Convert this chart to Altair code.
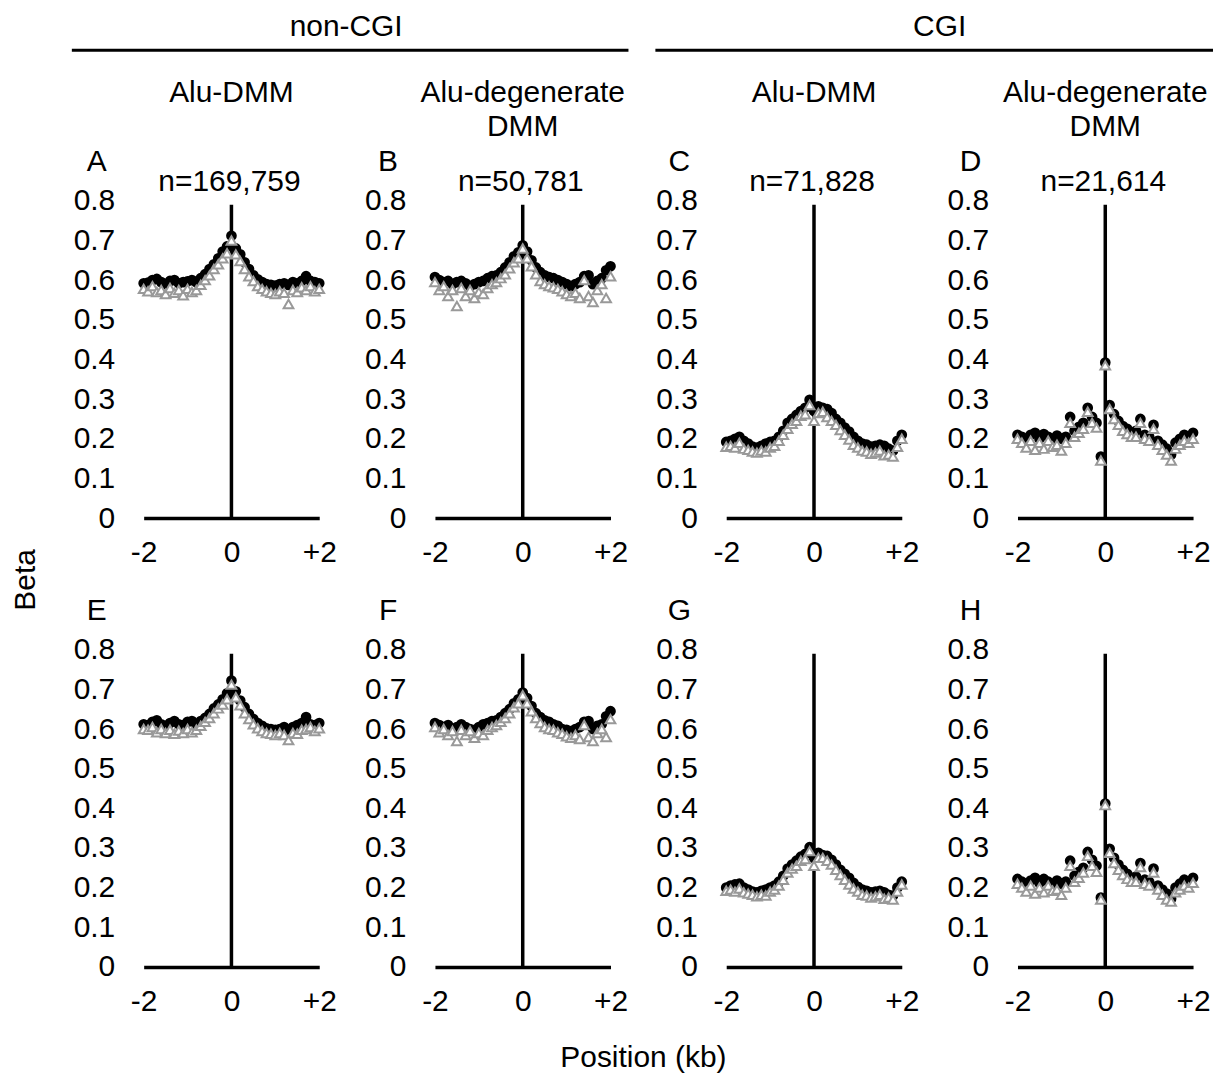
import altair as alt
import pandas as pd

FONT = "Liberation Sans"

positions = [-2.0, -1.9, -1.8, -1.7, -1.6, -1.5, -1.4, -1.3, -1.2, -1.1, -1.0,
             -0.9, -0.8, -0.7, -0.6, -0.5, -0.4, -0.3, -0.2, -0.1, 0.0,
             0.1, 0.2, 0.3, 0.4, 0.5, 0.6, 0.7, 0.8, 0.9, 1.0,
             1.1, 1.2, 1.3, 1.4, 1.5, 1.6, 1.7, 1.8, 1.9, 2.0]

y_ticks = [0, 0.1, 0.2, 0.3, 0.4, 0.5, 0.6, 0.7, 0.8]
x_ticks = [-2, 0, 2]

A_black = [0.592, 0.594, 0.600, 0.603, 0.595, 0.590, 0.598, 0.600, 0.592, 0.595, 0.597,
           0.600, 0.595, 0.605, 0.615, 0.628, 0.640, 0.655, 0.672, 0.685, 0.712,
           0.680, 0.665, 0.645, 0.628, 0.612, 0.602, 0.595, 0.590, 0.588, 0.586,
           0.590, 0.592, 0.588, 0.595, 0.592, 0.598, 0.610, 0.598, 0.595, 0.592]
A_gray = [0.578, 0.572, 0.585, 0.570, 0.575, 0.565, 0.580, 0.568, 0.575, 0.562, 0.578,
          0.570, 0.575, 0.588, 0.600, 0.612, 0.628, 0.640, 0.655, 0.668, 0.700,
          0.665, 0.648, 0.628, 0.610, 0.598, 0.585, 0.578, 0.572, 0.568, 0.565,
          0.572, 0.568, 0.540, 0.575, 0.570, 0.582, 0.575, 0.585, 0.572, 0.578]

B_black = [0.608, 0.600, 0.595, 0.598, 0.590, 0.595, 0.598, 0.592, 0.585, 0.590, 0.595,
           0.598, 0.605, 0.610, 0.612, 0.620, 0.632, 0.645, 0.660, 0.670, 0.688,
           0.672, 0.650, 0.632, 0.620, 0.612, 0.608, 0.605, 0.600, 0.595, 0.590,
           0.585, 0.590, 0.595, 0.610, 0.612, 0.590, 0.598, 0.605, 0.625, 0.635]
B_gray = [0.595, 0.575, 0.585, 0.560, 0.575, 0.535, 0.580, 0.560, 0.575, 0.555, 0.570,
          0.565, 0.580, 0.590, 0.595, 0.605, 0.615, 0.630, 0.645, 0.655, 0.680,
          0.655, 0.635, 0.615, 0.598, 0.590, 0.585, 0.582, 0.578, 0.572, 0.565,
          0.560, 0.568, 0.555, 0.600, 0.560, 0.545, 0.575, 0.590, 0.555, 0.610]

C_black = [0.192, 0.195, 0.200, 0.205, 0.195, 0.188, 0.180, 0.178, 0.182, 0.188, 0.192,
           0.195, 0.205, 0.220, 0.240, 0.250, 0.260, 0.270, 0.278, 0.298, 0.270,
           0.282, 0.278, 0.275, 0.265, 0.250, 0.240, 0.228, 0.218, 0.205, 0.195,
           0.188, 0.185, 0.180, 0.182, 0.185, 0.182, 0.175, 0.170, 0.195, 0.210]
C_gray = [0.180, 0.182, 0.178, 0.190, 0.175, 0.172, 0.168, 0.165, 0.170, 0.168, 0.178,
          0.182, 0.195, 0.210, 0.225, 0.238, 0.245, 0.258, 0.262, 0.285, 0.245,
          0.265, 0.268, 0.255, 0.245, 0.235, 0.222, 0.210, 0.198, 0.185, 0.178,
          0.170, 0.168, 0.162, 0.165, 0.170, 0.158, 0.160, 0.155, 0.180, 0.200]

D_black = [0.210, 0.205, 0.198, 0.210, 0.215, 0.200, 0.212, 0.205, 0.195, 0.208, 0.200,
           0.205, 0.255, 0.220, 0.230, 0.240, 0.278, 0.255, 0.240, 0.155, 0.392,
           0.285, 0.262, 0.245, 0.232, 0.225, 0.215, 0.220, 0.250, 0.210, 0.205,
           0.235, 0.195, 0.185, 0.175, 0.160, 0.190, 0.200, 0.210, 0.205, 0.215]
D_gray = [0.200, 0.190, 0.178, 0.195, 0.172, 0.190, 0.175, 0.195, 0.180, 0.185, 0.170,
          0.190, 0.240, 0.205, 0.215, 0.225, 0.268, 0.240, 0.228, 0.145, 0.385,
          0.275, 0.250, 0.235, 0.220, 0.212, 0.205, 0.205, 0.240, 0.200, 0.195,
          0.225, 0.185, 0.172, 0.160, 0.145, 0.175, 0.185, 0.195, 0.190, 0.200]

E_black = [0.612, 0.610, 0.618, 0.622, 0.612, 0.608, 0.615, 0.620, 0.612, 0.610, 0.618,
           0.620, 0.612, 0.620, 0.628, 0.638, 0.652, 0.662, 0.675, 0.690, 0.722,
           0.695, 0.672, 0.655, 0.638, 0.625, 0.615, 0.608, 0.602, 0.600, 0.598,
           0.600, 0.605, 0.598, 0.605, 0.610, 0.615, 0.630, 0.612, 0.610, 0.615]
E_gray = [0.600, 0.598, 0.605, 0.592, 0.600, 0.590, 0.598, 0.588, 0.596, 0.590, 0.600,
          0.592, 0.598, 0.608, 0.618, 0.628, 0.640, 0.652, 0.662, 0.675, 0.712,
          0.680, 0.660, 0.640, 0.625, 0.612, 0.602, 0.595, 0.590, 0.588, 0.585,
          0.590, 0.585, 0.572, 0.590, 0.588, 0.598, 0.600, 0.605, 0.595, 0.602]

F_black = [0.615, 0.610, 0.605, 0.610, 0.600, 0.605, 0.612, 0.605, 0.600, 0.598, 0.605,
           0.612, 0.615, 0.620, 0.622, 0.630, 0.640, 0.650, 0.665, 0.675, 0.692,
           0.678, 0.658, 0.640, 0.630, 0.622, 0.618, 0.612, 0.608, 0.600, 0.598,
           0.595, 0.600, 0.605, 0.618, 0.620, 0.600, 0.608, 0.612, 0.632, 0.645]
F_gray = [0.605, 0.592, 0.600, 0.585, 0.595, 0.570, 0.598, 0.585, 0.595, 0.578, 0.590,
          0.585, 0.598, 0.605, 0.610, 0.618, 0.628, 0.640, 0.655, 0.665, 0.685,
          0.665, 0.645, 0.628, 0.615, 0.605, 0.600, 0.598, 0.592, 0.588, 0.582,
          0.578, 0.585, 0.575, 0.610, 0.580, 0.570, 0.590, 0.600, 0.580, 0.625]

G_black = [0.200, 0.205, 0.208, 0.210, 0.200, 0.195, 0.190, 0.188, 0.192, 0.195, 0.200,
           0.205, 0.215, 0.230, 0.248, 0.258, 0.268, 0.278, 0.285, 0.302, 0.275,
           0.288, 0.282, 0.280, 0.270, 0.258, 0.245, 0.235, 0.225, 0.212, 0.202,
           0.195, 0.192, 0.188, 0.190, 0.192, 0.188, 0.182, 0.180, 0.200, 0.215]
G_gray = [0.192, 0.195, 0.190, 0.198, 0.188, 0.185, 0.182, 0.178, 0.182, 0.180, 0.190,
          0.195, 0.205, 0.220, 0.238, 0.248, 0.255, 0.268, 0.272, 0.292, 0.255,
          0.275, 0.275, 0.268, 0.258, 0.245, 0.232, 0.220, 0.208, 0.198, 0.190,
          0.182, 0.180, 0.175, 0.178, 0.182, 0.172, 0.175, 0.170, 0.190, 0.208]

H_black = [0.222, 0.215, 0.210, 0.218, 0.225, 0.212, 0.222, 0.215, 0.205, 0.218, 0.210,
           0.215, 0.268, 0.230, 0.240, 0.250, 0.290, 0.270, 0.255, 0.175, 0.412,
           0.298, 0.275, 0.258, 0.245, 0.235, 0.225, 0.228, 0.262, 0.220, 0.215,
           0.248, 0.205, 0.195, 0.185, 0.172, 0.200, 0.210, 0.220, 0.215, 0.225]
H_gray = [0.210, 0.200, 0.190, 0.205, 0.185, 0.200, 0.188, 0.205, 0.192, 0.195, 0.182,
          0.200, 0.255, 0.215, 0.225, 0.238, 0.280, 0.255, 0.240, 0.170, 0.408,
          0.288, 0.262, 0.245, 0.232, 0.222, 0.215, 0.215, 0.252, 0.210, 0.205,
          0.238, 0.195, 0.182, 0.170, 0.165, 0.188, 0.195, 0.205, 0.200, 0.212]

letters = ["A", "B", "C", "D", "E", "F", "G", "H"]
n_labels = ["n=169,759", "n=50,781", "n=71,828", "n=21,614"]
col_headers = [["Alu-DMM"], ["Alu-degenerate", "DMM"], ["Alu-DMM"], ["Alu-degenerate", "DMM"]]
group_headers = ["non-CGI", "CGI"]
y_title = "Beta"
x_title = "Position (kb)"

blacks = [A_black, B_black, C_black, D_black, E_black, F_black, G_black, H_black]
grays = [A_gray, B_gray, C_gray, D_gray, E_gray, F_gray, G_gray, H_gray]

W, H = 176, 318
FS = 30


def text_layer(txt, x, y, size=FS, angle=0, baseline="alphabetic"):
    return alt.Chart(pd.DataFrame({"t": [txt]})).mark_text(
        fontSize=size, font=FONT, color="black", align="center",
        baseline=baseline, angle=angle
    ).encode(x=alt.value(x), y=alt.value(y), text="t:N")


def hline_layer(x1, x2, y):
    return alt.Chart(pd.DataFrame({"k": [1]})).mark_rule(
        color="black", strokeWidth=3
    ).encode(x=alt.value(x1), x2=alt.value(x2), y=alt.value(y))


xenc = alt.X(
    "pos:Q",
    scale=alt.Scale(domain=[-2, 2], nice=False, zero=False),
    axis=alt.Axis(
        values=x_ticks, title=None, ticks=False, grid=False,
        domain=True, domainColor="black", domainWidth=3.5, labelFlush=False,
        labelPadding=20, labelFontSize=FS, labelFont=FONT, labelColor="black",
        labelExpr="(datum.value > 0 ? '+' : datum.value < 0 ? '-' : '') + format(abs(datum.value), 'd')",
    ),
)
yenc = alt.Y(
    "beta:Q",
    scale=alt.Scale(domain=[0, 0.8], nice=False),
    axis=alt.Axis(
        values=y_ticks, title=None, ticks=False, grid=False,
        domain=False, labelPadding=29, labelFontSize=FS, labelFont=FONT,
        labelColor="black", labelFlush=False,
        labelExpr="datum.value == 0 ? '0' : format(datum.value, '.1f')",
    ),
)


def panel(i):
    vline = alt.Chart(pd.DataFrame({"pos": [0], "beta": [0], "top": [0.79]})).mark_rule(
        color="black", strokeWidth=3.5
    ).encode(x=xenc, y=yenc, y2="top:Q")
    circ = alt.Chart(pd.DataFrame({"pos": positions, "beta": blacks[i]})).mark_point(
        shape="circle", filled=True, color="black", size=115, opacity=1
    ).encode(x=xenc, y=yenc)
    tri = alt.Chart(pd.DataFrame({"pos": positions, "beta": grays[i]})).mark_point(
        shape="triangle-up", filled=False, fill="white", fillOpacity=1,
        stroke="#999999", strokeWidth=2, size=95, opacity=1
    ).encode(x=xenc, y=yenc)
    layers = [vline, circ, tri, text_layer(letters[i], -47, -30)]
    col = i % 4
    if i < 4:
        layers.append(text_layer(n_labels[i], 86, -10))
        hdr = col_headers[col]
        layers.append(text_layer(hdr[0], 88, -99))
        if len(hdr) > 1:
            layers.append(text_layer(hdr[1], 88, -65))
        if col == 0:
            layers.append(text_layer(group_headers[0], 203, -165))
            layers.append(hline_layer(-72, 486, -151))
        if col == 2:
            layers.append(text_layer(group_headers[1], 214, -165))
            layers.append(hline_layer(-71, 488, -151))
    if i == 4:
        layers.append(text_layer(y_title, -118, -70, angle=270, baseline="middle"))
    if i == 5:
        layers.append(text_layer(x_title, 209, 409, baseline="middle"))
    return alt.layer(*layers).properties(width=W, height=H)


chart = alt.concat(
    *[panel(i) for i in range(8)],
    columns=4, spacing={"row": 132, "column": 116}, bounds="flush"
).properties(
    padding={"left": 3, "top": 3, "right": 0, "bottom": 0}
).configure(font=FONT).configure_view(
    strokeWidth=0, stroke="transparent"
).configure_axis(grid=False)

chart.save("out.html", embed_options={"renderer": "svg", "actions": False})
